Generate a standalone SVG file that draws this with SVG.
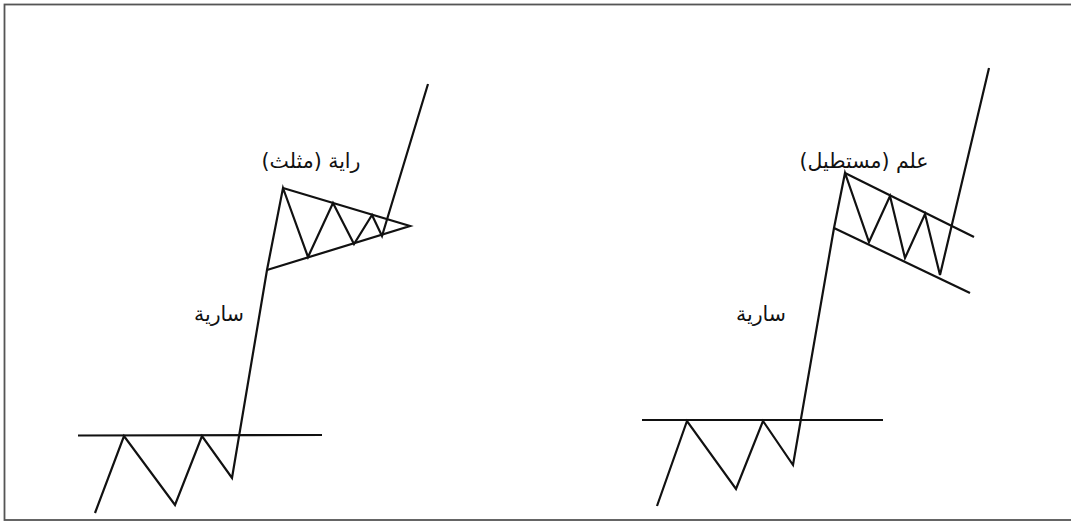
<svg xmlns="http://www.w3.org/2000/svg" width="1071" height="523" viewBox="0 0 1071 523">
<style>
.ln{fill:none;stroke:#111;stroke-width:2.2;stroke-linejoin:miter;stroke-linecap:butt}
.lb{font-family:"DejaVu Sans","Noto Sans",sans-serif;font-size:20.5px;fill:#111;text-anchor:middle}
</style>
<rect x="0" y="0" width="1071" height="523" fill="#fff"/>
<rect x="4.5" y="4.5" width="1090" height="515.5" fill="none" stroke="#555" stroke-width="1.8"/>
<g id="connectors">
<g id="pennant">
<line class="ln" x1="78" y1="435.5" x2="322" y2="435"/>
<polyline class="ln" points="95,513 124,436 175,505 202,436 232,478 267,270 283,188 308,257 333,203 354,244 372,215 382,236 428,84"/>
<polyline class="ln" points="283,188 410,226 267,270"/>
</g>
<g id="flag">
<line class="ln" x1="642" y1="420" x2="883" y2="420"/>
<polyline class="ln" points="657,506 687,421 736,489 763,421 793,465 834,228 845,173 869,242 890,196 905,258 925,214 940,275 989,68"/>
<line class="ln" x1="845" y1="173" x2="974" y2="237"/>
<line class="ln" x1="834" y1="228" x2="970" y2="293"/>
</g>
</g>
<g id="label-pennant"><text class="lb" x="311" y="168" direction="rtl">راية (مثلث)</text></g>
<g id="label-mast-left"><text class="lb" x="219" y="321" direction="rtl">سارية</text></g>
<g id="label-flag"><text class="lb" x="864" y="168" direction="rtl">علم (مستطيل)</text></g>
<g id="label-mast-right"><text class="lb" x="761" y="321" direction="rtl">سارية</text></g>
</svg>
